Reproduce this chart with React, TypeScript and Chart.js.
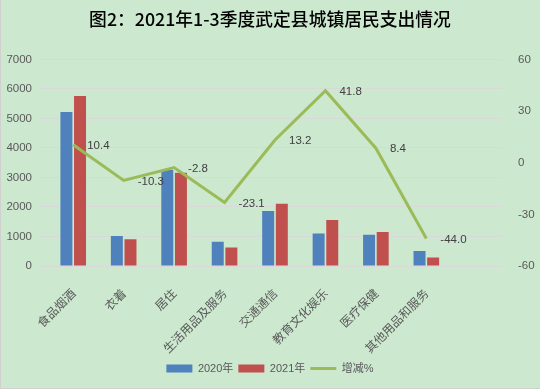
import React, { useEffect, useRef } from "react";
import { Chart, registerables } from "chart.js";

Chart.register(...registerables);

const title = "图2：2021年1-3季度武定县城镇居民支出情况";
const categories = ["食品烟酒", "衣着", "居住", "生活用品及服务", "交通通信", "教育文化娱乐", "医疗保健", "其他用品和服务", ""];
const values2020 = [5220, 1015, 3250, 820, 1860, 1100, 1060, 510, null];
const values2021 = [5760, 910, 3160, 630, 2105, 1560, 1150, 285, null];
const changePct = [10.4, -10.3, -2.8, -23.1, 13.2, 41.8, 8.4, -44.0, null];
const seriesNames = ["2020年", "2021年", "增减%"];
const leftMin = 0;
const leftMax = 7000;
const leftStep = 1000;
const rightMin = -60;
const rightMax = 60;
const rightStep = 30;

const FONT = "'Liberation Sans', 'Noto Sans CJK SC', sans-serif";

const lineLabelPlugin = {
  id: "lineLabels",
  afterDatasetsDraw(chart: any) {
    const meta = chart.getDatasetMeta(2);
    const ctx = chart.ctx;
    ctx.save();
    ctx.font = `11.5px ${FONT}`;
    ctx.fillStyle = "#404040";
    ctx.textAlign = "left";
    ctx.textBaseline = "middle";
    meta.data.forEach((pt: any, i: number) => {
      const v = changePct[i];
      if (v === null || v === undefined) return;
      ctx.fillText(v.toFixed(1), pt.x + 14, pt.y + 1);
    });
    ctx.restore();
  },
};

export default function App() {
  const ref = useRef<HTMLCanvasElement>(null);
  useEffect(() => {
    if (!ref.current) return;
    const chart = new Chart(ref.current, {
      type: "bar",
      data: {
        labels: categories,
        datasets: [
          {
            type: "bar",
            label: seriesNames[0],
            data: values2020,
            backgroundColor: "#4F81BD",
            borderWidth: 0,
            yAxisID: "y",
            order: 2,
            pointStyle: "rect",
            categoryPercentage: 0.54,
            barPercentage: 0.88,
          } as any,
          {
            type: "bar",
            label: seriesNames[1],
            data: values2021,
            backgroundColor: "#C0504D",
            borderWidth: 0,
            yAxisID: "y",
            order: 2,
            pointStyle: "rect",
            categoryPercentage: 0.54,
            barPercentage: 0.88,
          } as any,
          {
            type: "line",
            label: seriesNames[2],
            data: changePct,
            borderColor: "#9BBB59",
            backgroundColor: "#9BBB59",
            borderWidth: 3,
            pointRadius: 0,
            pointStyle: "line",
            yAxisID: "y1",
            order: 0,
            spanGaps: false,
          } as any,
        ],
      },
      options: {
        animation: false,
        responsive: false,
        maintainAspectRatio: false,
        layout: { padding: { left: 0, right: 0, top: 0, bottom: 5 } },
        plugins: {
          title: {
            display: true,
            text: title,
            color: "#000000",
            font: { family: "'Noto Sans CJK SC', sans-serif", size: 17.8, weight: "500" },
            padding: { top: 9, bottom: 29 },
          },
          legend: {
            position: "bottom",
            labels: {
              usePointStyle: true,
              pointStyleWidth: 26,
              boxHeight: 8,
              color: "#595959",
              font: { family: FONT, size: 11 },
              padding: 5,
              sort: (a: any, b: any) => a.datasetIndex - b.datasetIndex,
            },
          },
          tooltip: { enabled: false },
        },
        scales: {
          x: {
            grid: { display: false },
            border: { display: false },
            ticks: {
              color: "#595959",
              font: { family: "'Noto Sans CJK SC', sans-serif", size: 12 },
              minRotation: 45,
              maxRotation: 45,
              autoSkip: false,
              padding: 12,
            },
            afterFit: (s: any) => {
              s.height = 92;
            },
          },
          y: {
            position: "left",
            min: leftMin,
            max: leftMax,
            grid: { color: "#D9D9D9", lineWidth: 1 },
            border: { display: false },
            ticks: {
              stepSize: leftStep,
              color: "#595959",
              font: { family: FONT, size: 11.5 },
              padding: 8,
              callback: (v: any) => String(v),
            },
            afterFit: (s: any) => {
              s.width = 48;
            },
          },
          y1: {
            position: "right",
            min: rightMin,
            max: rightMax,
            grid: { display: false },
            border: { display: false },
            ticks: {
              stepSize: rightStep,
              color: "#595959",
              font: { family: FONT, size: 11.5 },
              padding: 8,
              callback: (v: any) => String(v),
            },
            afterFit: (s: any) => {
              s.width = 38;
            },
          },
        },
      } as any,
      plugins: [lineLabelPlugin],
    });
    return () => chart.destroy();
  }, []);

  return (
    <div
      style={{
        position: "fixed",
        left: 0,
        top: 0,
        width: 540,
        height: 389,
        background: "#CCE8CF",
        overflow: "hidden",
      }}
    >
      <canvas ref={ref} width={540} height={389} style={{ position: "absolute", left: 0, top: 0 }} />
      <div
        style={{
          position: "absolute",
          left: 0,
          top: 0,
          width: 540,
          height: 389,
          boxSizing: "border-box",
          borderLeft: "1px solid #D0D0D0",
          borderBottom: "1px solid #D0D0D0",
          pointerEvents: "none",
        }}
      />
    </div>
  );
}
